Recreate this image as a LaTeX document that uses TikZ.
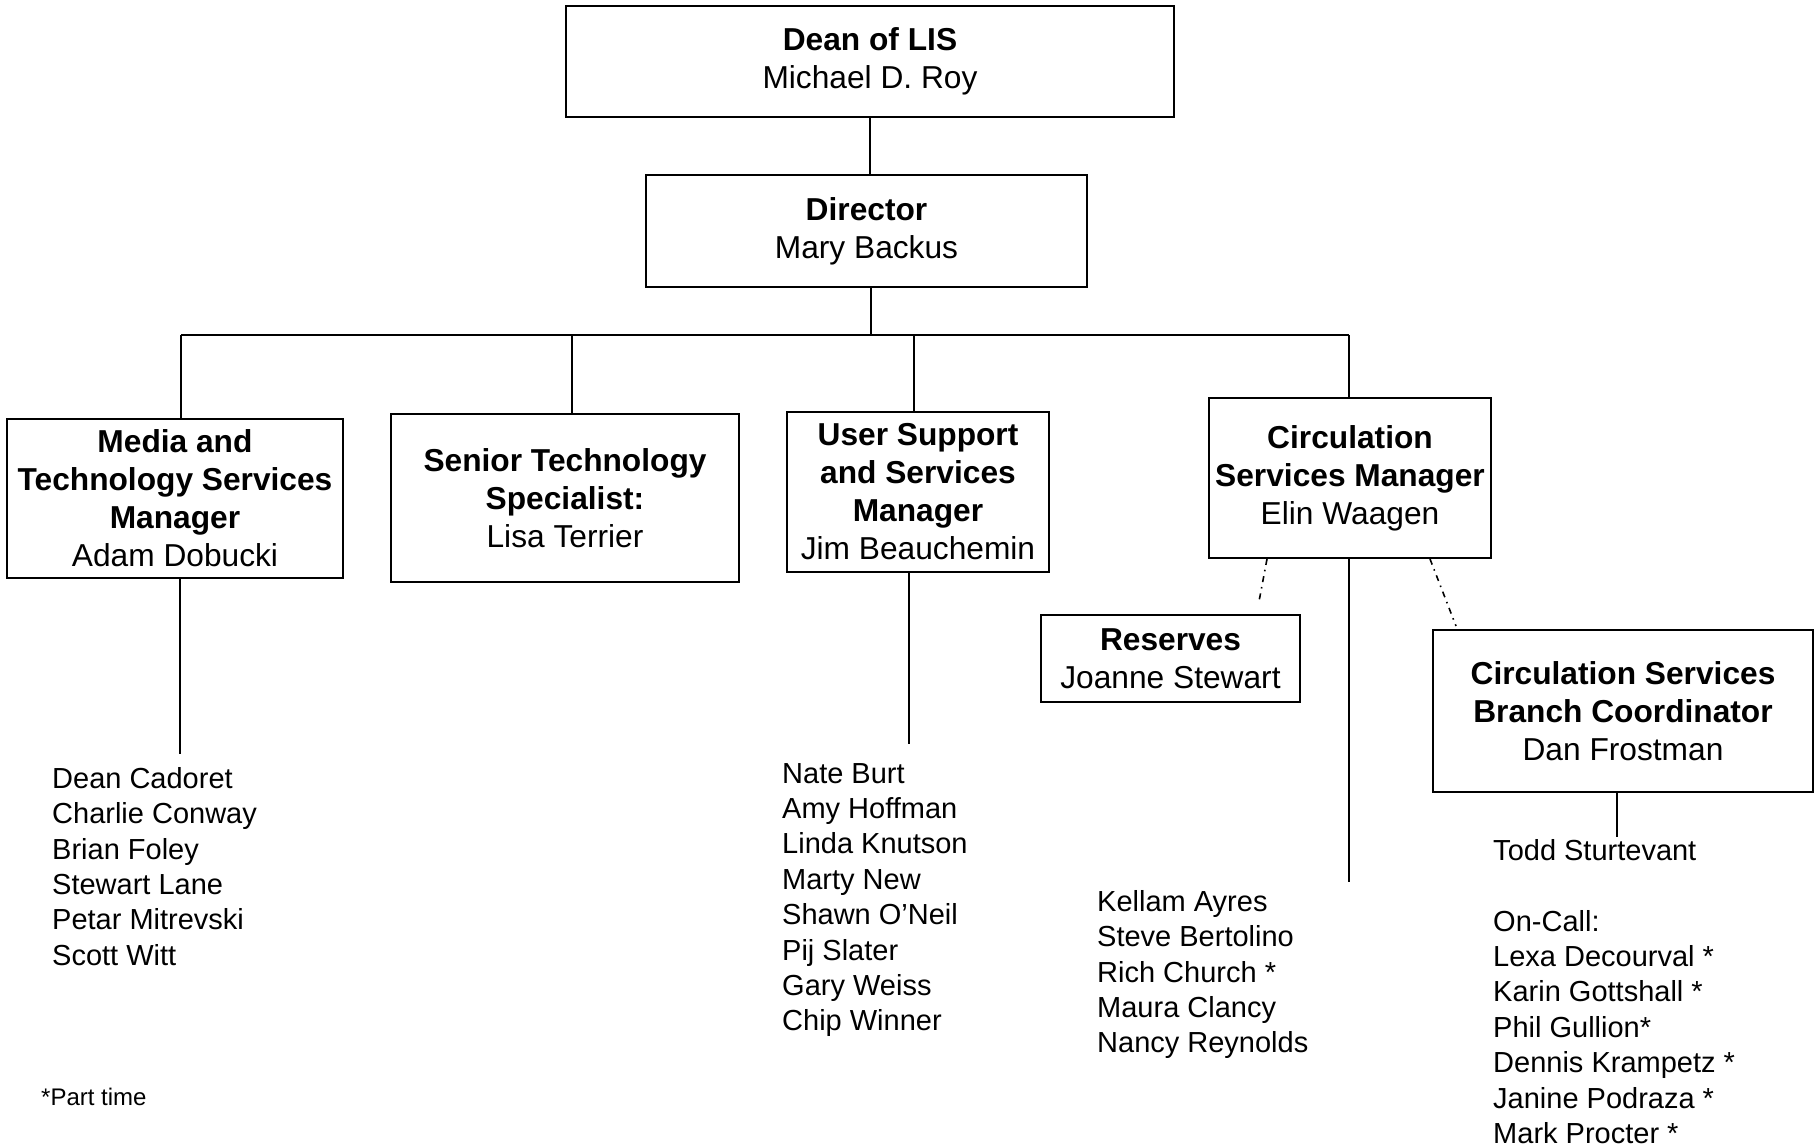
\documentclass[tikz,border=0pt]{standalone}
\usepackage{fontspec}
\setmainfont{Liberation Sans}
\usepackage{tikz}
\usetikzlibrary{positioning}

\begin{document}
\begin{tikzpicture}[x=1pt, y=-1pt,
        orgbox/.style={draw, line width=2pt, inner sep=0pt, align=center,
            font=\fontsize{31.7}{38}\selectfont},
        staff/.style={anchor=north west, inner sep=0pt, align=left,
            font=\fontsize{29}{35.4}\selectfont},
        link/.style={line width=1.6pt},
        dotlink/.style={line width=1.6pt, dash pattern=on 6pt off 5pt on 1.5pt off 5pt}]
        \useasboundingbox (0,0) rectangle (1819,1146);
        % Boxes
        \node[orgbox, minimum width=608, minimum height=111] (dean) at (870,61.5)
            {\textbf{Dean of LIS}\\Michael D. Roy};
        \node[orgbox, minimum width=441, minimum height=112] (director) at (866.5,231)
            {\textbf{Director}\\Mary Backus};
        \node[orgbox, minimum width=336, minimum height=159] (media) at (175,498.5)
            {\textbf{Media and}\\\textbf{Technology Services}\\\textbf{Manager}\\Adam Dobucki};
        \node[orgbox, minimum width=348, minimum height=168] (senior) at (565,498)
            {\textbf{Senior Technology}\\\textbf{Specialist:}\\Lisa Terrier};
        \node[orgbox, minimum width=262, minimum height=160] (user) at (918,492)
            {\textbf{User Support}\\\textbf{and Services}\\\textbf{Manager}\\Jim Beauchemin};
        \node[orgbox, minimum width=282, minimum height=160] (circ) at (1350,478)
            {\textbf{Circulation}\\\textbf{Services Manager}\\Elin Waagen};
        \node[orgbox, minimum width=259, minimum height=87] (reserves) at (1170.5,658.5)
            {\textbf{Reserves}\\Joanne Stewart};
        \node[orgbox, minimum width=380, minimum height=162] (branch) at (1623,711)
            {\textbf{Circulation Services}\\\textbf{Branch Coordinator}\\Dan Frostman};
        % Staff lists
        \node[staff] (mediastaff) at (52,767) {Dean Cadoret\\Charlie Conway\\Brian Foley\\Stewart Lane\\Petar Mitrevski\\Scott Witt};
        \node[staff] (userstaff) at (782,763) {Nate Burt\\Amy Hoffman\\Linda Knutson\\Marty New\\Shawn O'Neil\\Pij Slater\\Gary Weiss\\Chip Winner};
        \node[staff] (circstaff) at (1097,890) {Kellam Ayres\\Steve Bertolino\\Rich Church *\\Maura Clancy\\Nancy Reynolds};
        \node[staff] (branchstaff) at (1493,839) {Todd Sturtevant\\[35.4pt]On-Call:\\Lexa Decourval *\\Karin Gottshall *\\Phil Gullion*\\Dennis Krampetz *\\Janine Podraza *\\Mark Procter *};
        \node[anchor=north west, inner sep=0pt, font=\fontsize{24}{29}\selectfont] (parttime) at (41,1088) {*Part time};
        % Connectors
        \coordinate (busL) at (181,335);
        \coordinate (busR) at (1349,335);
        \coordinate (busMid) at (871,335);
        \coordinate (busS) at (572,335);
        \coordinate (busU) at (914,335);
        \draw[link] (dean.south) -- (dean.south |- director.north);
        \draw[link] (director.south -| busMid) -- (busMid);
        \draw[link] (busL) -- (busR);
        \draw[link] (busL) -- (busL |- media.north);
        \draw[link] (busS) -- (busS |- senior.north);
        \draw[link] (busU) -- (busU |- user.north);
        \draw[link] (busR) -- (busR |- circ.north);
        % Lines down to staff
        \coordinate (mediaEnd) at (180,754);
        \coordinate (userEnd) at (909,744);
        \coordinate (circEnd) at (1349,882);
        \coordinate (branchEnd) at (1617,837);
        \draw[link] (mediaEnd |- media.south) -- (mediaEnd);
        \draw[link] (userEnd |- user.south) -- (userEnd);
        \draw[link] (circEnd |- circ.south) -- (circEnd);
        \draw[link] (branchEnd |- branch.south) -- (branchEnd);
        % Dotted links
        \draw[dotlink] ([xshift=-83pt]circ.south) -- ([xshift=88pt,yshift=10pt]reserves.north);
        \draw[dotlink] ([xshift=80pt]circ.south) -- ([xshift=-167pt,yshift=3pt]branch.north);
    \end{tikzpicture}
\end{document}
